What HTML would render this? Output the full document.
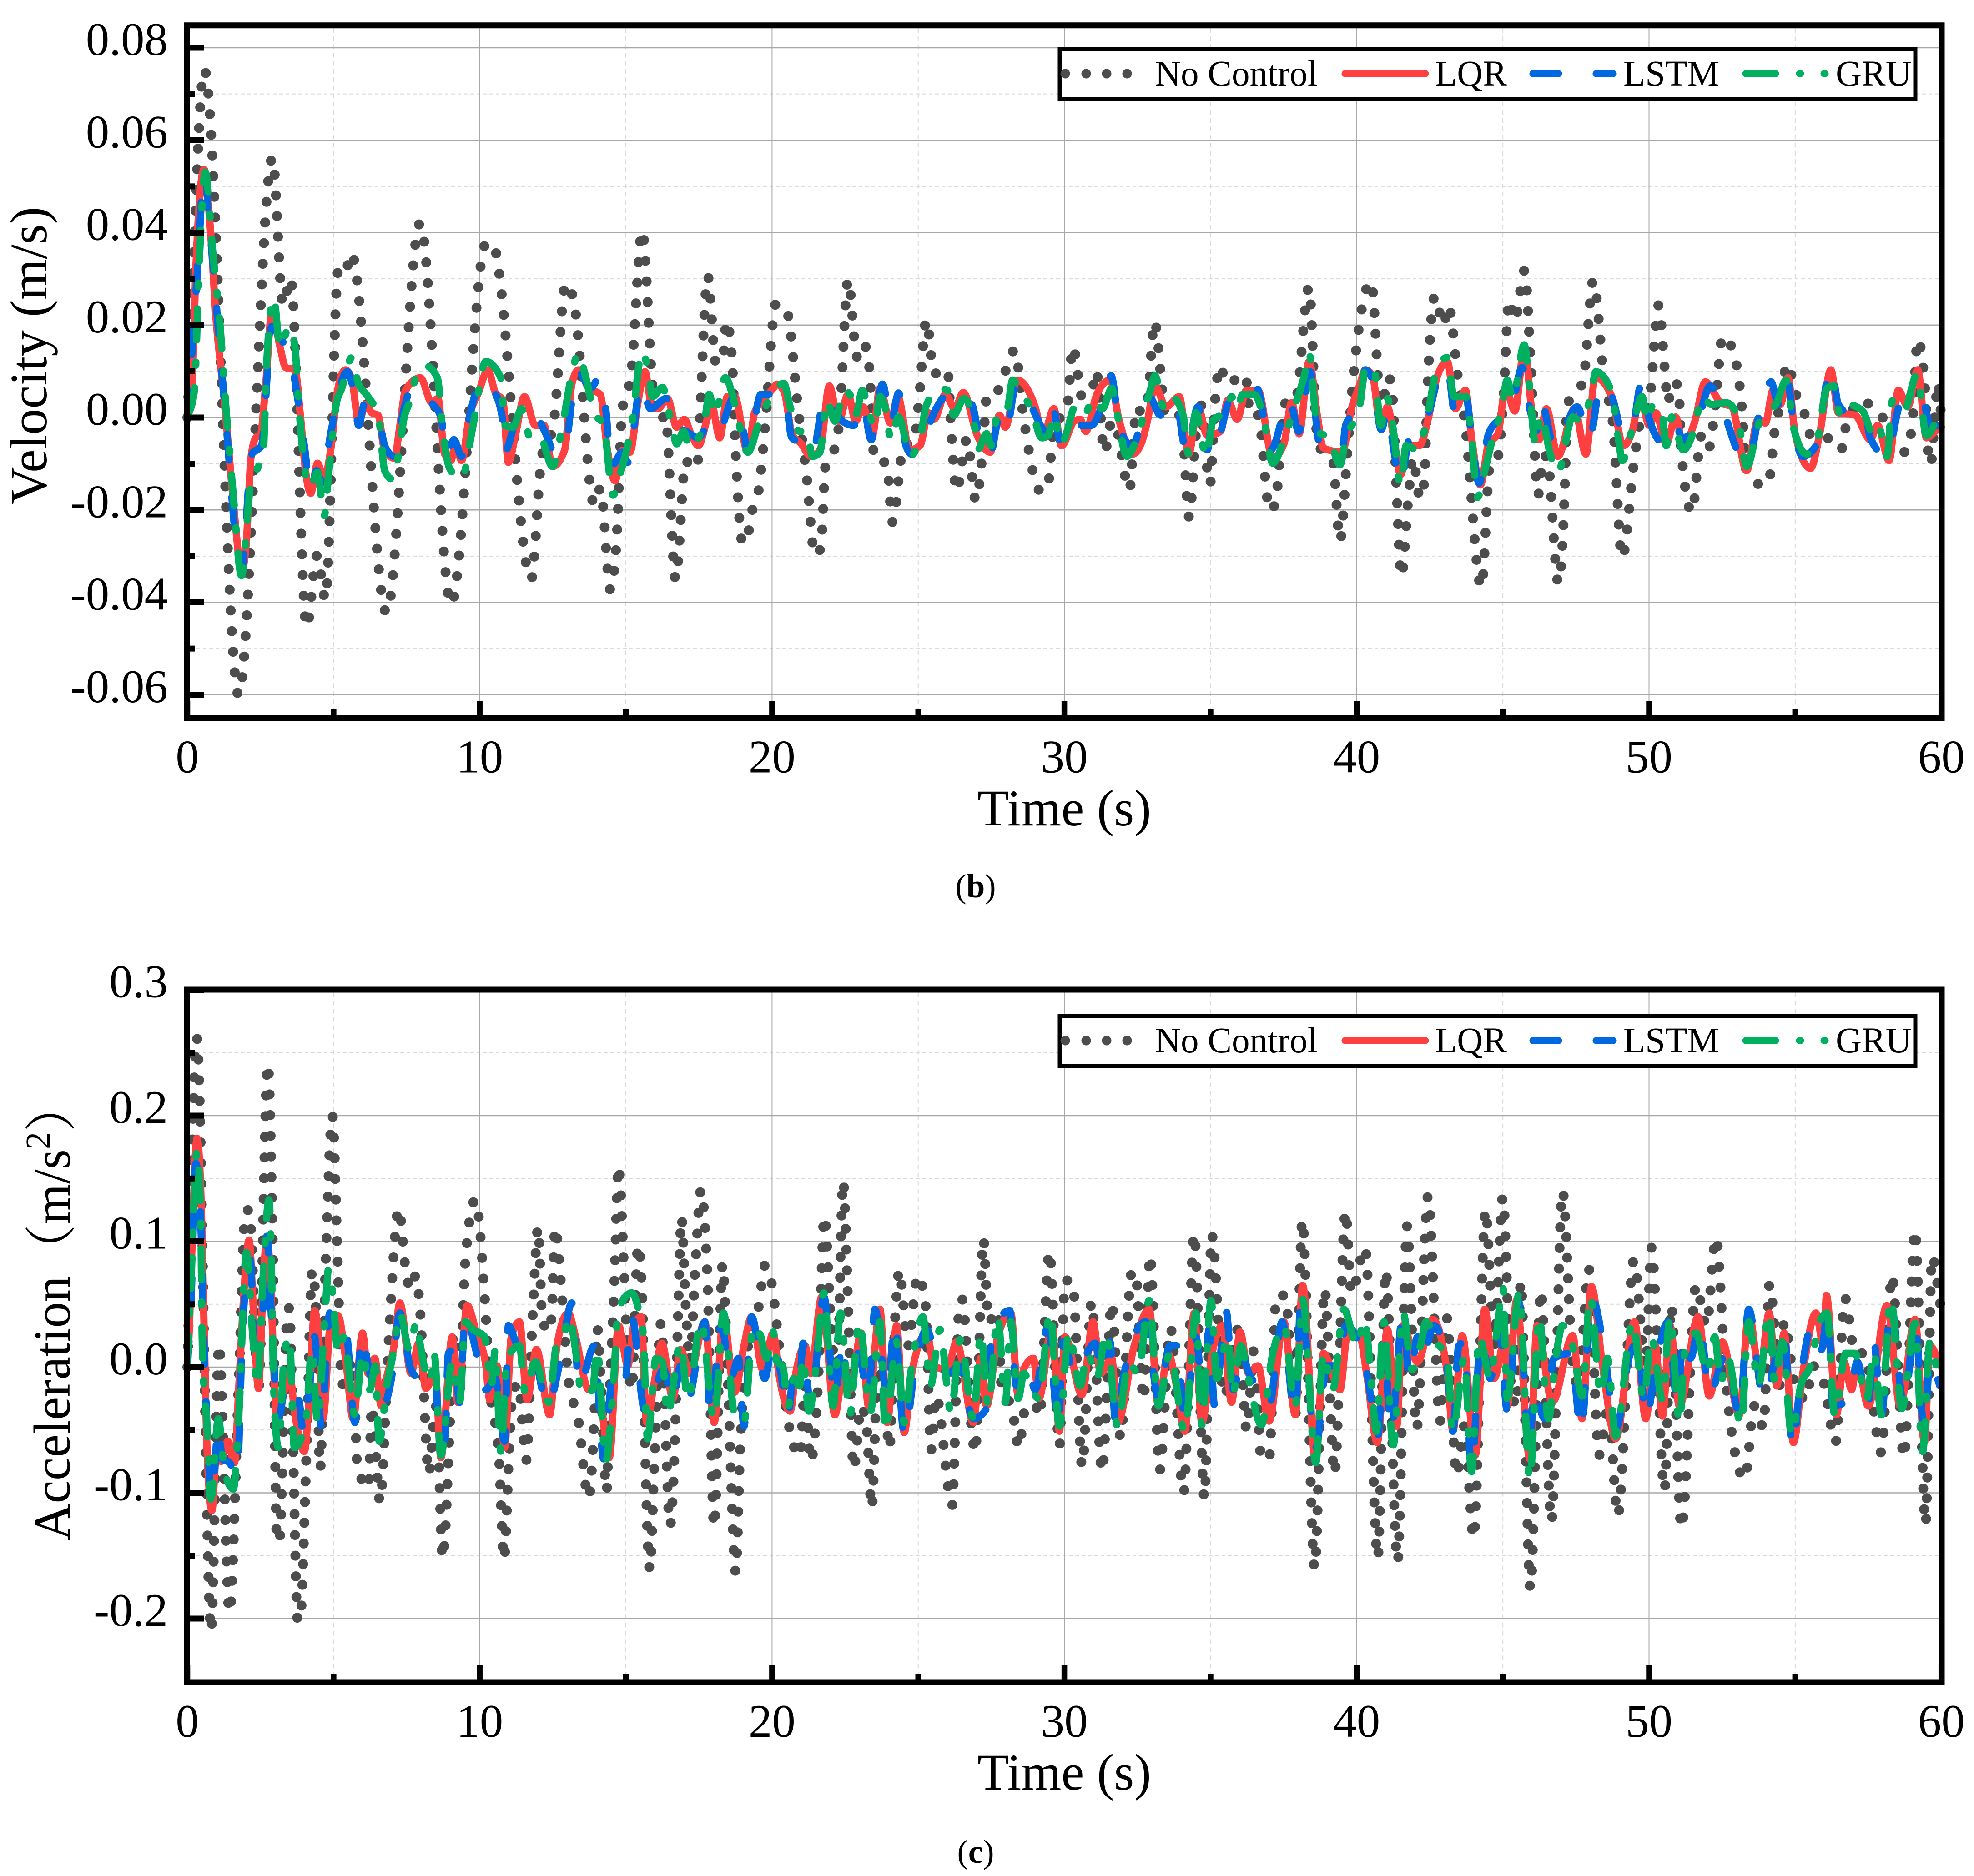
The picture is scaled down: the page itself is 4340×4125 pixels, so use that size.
<!DOCTYPE html>
<html lang="en">
<head>
<meta charset="utf-8">
<title>Velocity and acceleration response</title>
<style>
html,body{margin:0;padding:0;background:#fff;}
svg{display:block;}
text{font-family:"Liberation Serif","Noto Serif CJK SC",serif;fill:#000;}
</style>
</head>
<body>
<svg id="figure" xmlns="http://www.w3.org/2000/svg" width="4340" height="4125" viewBox="0 0 4340 4125">
  <rect x="0" y="0" width="4340" height="4125" fill="#ffffff"/>
  <g id="velocity-chart"></g>
  <g id="acceleration-chart"></g>

  <text transform="translate(102,782) rotate(-90)" text-anchor="middle" font-size="115">Velocity (m/s)</text>
  <text x="2340" y="1815" text-anchor="middle" font-size="113">Time (s)</text>
  <text x="2145" y="1973" text-anchor="middle" font-size="73">(<tspan font-weight="bold">b</tspan>)</text>

  <text transform="translate(153,3388) rotate(-90)" font-size="114">Acceleration（m/s<tspan font-size="76" dy="-44">2</tspan><tspan dy="44">）</tspan></text>
  <text x="2340" y="3935" text-anchor="middle" font-size="113">Time (s)</text>
  <text x="2145" y="4096" text-anchor="middle" font-size="73">(<tspan font-weight="bold">c</tspan>)</text>

  <g>
    <rect x="2330" y="107.5" width="1881" height="110" fill="#fff" stroke="#000" stroke-width="9"/>
    <g>
      <circle cx="2342" cy="162" r="10.5" fill="#4d4d4d"/>
      <circle cx="2388" cy="162" r="10.5" fill="#4d4d4d"/>
      <circle cx="2433" cy="162" r="10.5" fill="#4d4d4d"/>
      <circle cx="2478" cy="162" r="10.5" fill="#4d4d4d"/>
      <text x="2539" y="188" font-size="79">No Control</text>
    </g>
    <g>
      <line x1="2957" y1="162" x2="3134" y2="162" stroke="#ff4040" stroke-width="15" stroke-linecap="round"/>
      <text x="3155" y="188" font-size="79">LQR</text>
    </g>
    <g>
      <line x1="3370" y1="162" x2="3427" y2="162" stroke="#0068e0" stroke-width="15" stroke-linecap="round"/>
      <line x1="3509" y1="162" x2="3547" y2="162" stroke="#0068e0" stroke-width="15" stroke-linecap="round"/>
      <text x="3569" y="188" font-size="79">LSTM</text>
    </g>
    <g>
      <line x1="3838" y1="162" x2="3904" y2="162" stroke="#00b060" stroke-width="15" stroke-linecap="round"/>
      <line x1="3956" y1="162" x2="3959" y2="162" stroke="#00b060" stroke-width="15" stroke-linecap="round"/>
      <line x1="4010" y1="162" x2="4013" y2="162" stroke="#00b060" stroke-width="15" stroke-linecap="round"/>
      <text x="4036" y="188" font-size="79">GRU</text>
    </g>
  </g>

  <g>
    <rect x="2330" y="2233.5" width="1881" height="110" fill="#fff" stroke="#000" stroke-width="9"/>
    <g>
      <circle cx="2342" cy="2288" r="10.5" fill="#4d4d4d"/>
      <circle cx="2388" cy="2288" r="10.5" fill="#4d4d4d"/>
      <circle cx="2433" cy="2288" r="10.5" fill="#4d4d4d"/>
      <circle cx="2478" cy="2288" r="10.5" fill="#4d4d4d"/>
      <text x="2539" y="2314" font-size="79">No Control</text>
    </g>
    <g>
      <line x1="2957" y1="2288" x2="3134" y2="2288" stroke="#ff4040" stroke-width="15" stroke-linecap="round"/>
      <text x="3155" y="2314" font-size="79">LQR</text>
    </g>
    <g>
      <line x1="3370" y1="2288" x2="3427" y2="2288" stroke="#0068e0" stroke-width="15" stroke-linecap="round"/>
      <line x1="3509" y1="2288" x2="3547" y2="2288" stroke="#0068e0" stroke-width="15" stroke-linecap="round"/>
      <text x="3569" y="2314" font-size="79">LSTM</text>
    </g>
    <g>
      <line x1="3838" y1="2288" x2="3904" y2="2288" stroke="#00b060" stroke-width="15" stroke-linecap="round"/>
      <line x1="3956" y1="2288" x2="3959" y2="2288" stroke="#00b060" stroke-width="15" stroke-linecap="round"/>
      <line x1="4010" y1="2288" x2="4013" y2="2288" stroke="#00b060" stroke-width="15" stroke-linecap="round"/>
      <text x="4036" y="2314" font-size="79">GRU</text>
    </g>
  </g>
</svg>

<script>
// ---- axis tick data ----
const timeTicks = [0,10,20,30,40,50,60];
const timeMinorTicks = [5,15,25,35,45,55];
const velocityTicks = [80,60,40,20,0,-20,-40,-60];
const velocityTickLabels = ["0.08","0.06","0.04","0.02","0.00","-0.02","-0.04","-0.06"];
const velocityMinorTicks = [70,50,30,10,-10,-30,-50];
const accelTicks = [300,200,100,0,-100,-200];
const accelTickLabels = ["0.3","0.2","0.1","0.0","-0.1","-0.2"];
const accelMinorTicks = [250,150,50,-50,-150];

// ---- velocity series: time in s, value in 0.001 m/s ----
const velTimeNoControl = [0,.58,1.75,2.91,3.27,3.53,4.08,4.44,4.72,5.17,5.4,5.6,6.81,7.96,9.02,10.2,10.42,11.76,12.12,12.52,12.94,13.21,13.92,14.13,14.47,14.69,14.87,15.18,15.56,15.88,16,16.2,16.35,16.7,17.05,17.25,17.46,17.53,17.8,18.08,18.31,18.44,18.63,18.74,19,19.21,19.33,19.55,19.63,19.76,20.14,
20.5,20.91,21.17,21.47,21.67,21.83,22.22,22.34,22.6,22.91,23.11,23.29,23.39,23.5,23.92,24.12,24.39,24.46,24.84,25.02,25.28,25.54,26,26.13,26.31,26.67,26.97,27.21,27.36,27.68,28.31,28.58,29.2,29.42,29.64,30.09,30.29,30.61,30.95,31.09,31.37,31.62,31.75,32.23,32.39,32.48,32.65,32.84,33.08,33.48,33.99,34.27,34.5,34.63,34.98,35.15,35.32,35.55,36.19,36.36,36.62,37.03,37.22,37.47,37.6,37.9,38.37,38.63,38.86,39.18,39.43,39.66,39.82,
40.5,40.82,40.93,41.08,41.21,41.37,41.53,41.76,41.92,42.17,42.31,42.41,42.67,42.97,43.14,43.46,43.68,44.27,44.56,44.79,45.02,45.21,45.41,45.74,45.97,46.2,46.4,46.53,46.9,47.15,47.17,47.3,47.74,48.09,48.48,48.77,49.08,49.48,49.69,50.01,50.33,50.53,50.65,50.78,51.01,51.1,51.47,51.79,52.02,52.25,52.52,52.86,53.19,53.34,53.85,54.07,54.33,54.49,54.72,55.04,55.33,55.52,55.97,56.41,56.67,56.73,57.34,57.61,57.89,58.34,58.78,59.01,59.19,59.46,59.51,59.63,59.81,59.87,60];
const velValueNoControl = [0,75.2,-60,56.2,24.4,30.1,-45.3,-29.8,-39.3,32.2,31.3,35.6,-42.2,42,-40.4,37.5,37.8,-35,-8.5,-1.7,29,25.4,-18.8,-15.3,-37.3,-25.6,1.2,9.3,40.4,9.3,.3,-.4,.5,-35,-9.3,-11.2,-9.3,-.4,30.6,11.8,12.1,20.9,12.7,-5.3,-27.3,-24.3,-19.9,-15.4,-11,-2,24.7,
23.1,.8,-11.9,-29.8,-28.1,-10.3,-5.3,3.2,29.8,13.1,16.1,13.1,4.2,-9.3,-9.8,-22.6,-9.8,-6,-5.4,3.3,21.1,9.5,10.5,-2.8,-15.9,-4.6,-18,-6.9,5.3,5.6,14.6,1.2,-16,-15.4,-2.1,2,15.3,4.4,5.9,10.1,-7.6,-.8,-1.7,-15.7,-2.2,2.2,1,3.2,20.8,.1,.5,-21.6,-3.5,3.7,-14.5,3.2,11.2,7.3,9.3,.3,.5,-20.2,-18.4,-.6,3.8,3.7,28.2,-3,-7.9,-9.3,-26.7,-9.3,4.1,
29.4,2.8,4.5,8.8,5.7,-16.6,-34.4,-17.9,-8.8,-17.5,-13.9,4.1,26.3,20,24.2,8.8,.1,-36.7,-10,-9.4,4.1,25.4,21,31.8,9.6,-16.8,-8.1,-9.3,-35.8,-9,.1,4.3,7.6,29.6,7.6,-1.7,-30.3,-10,-1,3.5,24.3,11,3.2,7.5,6.9,-7,-20.5,-4,-7,1.4,17.6,14.6,1.2,-12,-14.5,-14.5,-1.4,2.8,11.6,4.8,.6,-3.7,-3.5,-7,-6.3,-1.9,3.8,2.2,1,-4.8,-7.5,-1,16.9,4.5,-4.4,-10.2,3.2,7.5,0];

const velTimeLQR = [0,.16,.29,.57,.76,.99,1.25,1.44,1.63,1.85,2.02,2.17,2.36,2.49,2.68,2.89,3.17,3.36,3.68,3.87,4.04,4.22,4.45,4.68,4.9,5.15,5.41,5.63,5.86,6.09,6.31,6.52,6.75,7.08,7.27,7.46,7.97,8.36,8.57,8.8,9.02,9.16,9.38,9.64,9.96,10.28,10.53,10.79,10.98,11.23,11.53,11.9,12.2,12.49,12.9,13.15,13.38,13.73,14.12,14.37,14.63,14.88,15.14,15.4,15.65,15.91,16.1,16.42,16.74,17,17.25,17.48,17.76,17.93,18.21,18.47,18.72,19.17,19.4,19.75,20.04,
20.17,20.42,20.68,21,21.32,21.64,21.96,22.28,22.6,22.86,23.11,23.43,23.69,24.05,24.3,24.71,25.06,25.35,25.54,25.93,26.25,26.54,27.02,27.46,27.78,27.98,28.39,29,29.28,29.64,29.9,30.34,30.54,30.73,31.11,31.56,31.88,32.33,32.65,32.84,33.1,33.48,33.93,34.25,34.57,34.89,35.34,35.59,35.91,36.23,36.62,37.13,37.51,37.77,38.03,38.37,38.66,38.86,39.5,39.82,40.11,
40.29,40.54,40.82,41.05,41.27,41.5,41.76,42.14,42.46,42.72,43.1,43.38,43.72,43.93,44.23,44.51,44.83,45.09,45.41,45.73,46.05,46.24,46.49,46.88,47.45,47.84,48.16,48.73,49.12,49.44,49.69,50.01,50.23,50.59,50.91,51.17,51.55,51.93,52.45,52.83,53.34,53.73,53.98,54.24,54.49,54.75,55,55.52,55.84,56.22,56.48,57.05,57.57,57.82,58.21,58.53,58.85,59.19,59.49,59.87,60];
const velValueLQR = [0,7.2,32.2,53.7,42.9,20.6,4.5,-8.9,-22.3,-33.3,-26.7,-8.9,-4.2,-3.9,7.2,22.8,15.2,10.8,10.3,.1,-11.5,-16.4,-9.9,-13.3,-7.1,6.3,10.3,8.1,-1.2,2.8,1,.5,-7.1,-8.8,-1.7,5.9,8.6,3.2,4.1,-7.9,-9.3,-5.7,-9.3,.1,5.4,10.3,5.4,3.7,-9.7,-3.5,4.5,-1.7,-1.7,-10.6,-7.1,7.2,10.3,6.3,5,-7.1,-13.7,-7.1,-7.5,2.8,9.9,1.9,1.9,4.1,-2.1,-.4,-3.9,-6.1,-.8,2.8,-4.4,4.5,4.5,-7.5,1,4.1,6.3,
7.2,5.4,-3.5,-5.7,-8.4,-7,6.8,-.8,5,-.8,2.3,-3.9,6.3,-1.2,4.5,-7,-6.1,1,-.4,5,1.9,5.4,-3.9,-7.5,.5,-2.1,8.1,2.3,-3.9,1.9,-6.1,-.8,-.4,-3,5,8.1,-.8,-7.9,-5.3,-.8,6.8,2.3,4.5,-7.9,2.3,-3.9,-3,3.7,-.4,5.9,5.9,-8.8,-5.7,3.2,-3.5,12.1,.1,-6.6,-7.5,1.9,7.2,
10.3,9,-2.1,2.3,-4.4,-12.4,-6.1,-6.1,.1,8.1,12.1,1.9,5.9,-4.4,-14.6,-5.7,-3.5,6.3,1.4,14.8,-1.7,-4.8,1.9,-8.4,1.9,-7.9,8.6,4.5,-6.1,-2.6,4.5,-1.7,1,-5.7,.1,-6.1,-1.2,7.7,3.2,2.3,-11.5,-.4,-1.2,5.9,2.8,8.6,-3.5,-11,-3.5,10.3,1,.5,-4.8,-1.7,-9.3,5.9,2.3,10.3,-4.4,-2.6,-2.1];

const velTimeLSTM = [0,.35,.57,.8,1.25,1.85,2.21,2.53,2.89,3.11,3.62,4,4.22,4.42,4.6,4.9,5.47,5.67,5.86,6.05,6.56,6.75,7.07,7.27,7.65,8.03,8.35,8.67,8.87,9.12,9.38,9.63,10.08,10.47,10.79,10.85,11.3,11.81,12.26,12.58,12.96,13.15,13.38,13.79,14.09,14.31,14.5,14.88,15.07,15.52,15.84,16.38,16.74,17.06,17.48,17.74,18.21,18.4,18.72,19.04,19.17,19.62,20.04,
20.42,20.68,21.06,21.38,21.81,22.15,22.41,22.79,23.11,23.39,23.78,24.07,24.33,24.58,24.78,25.22,25.61,25.93,26.25,26.82,27.08,27.46,27.78,28,28.36,28.87,29.38,29.58,29.9,30.47,30.92,31.3,31.6,31.88,32.33,32.9,33.29,33.8,34.18,34.57,34.89,35.08,35.27,35.66,36.04,36.58,37.06,37.7,38.02,38.41,38.73,39.3,39.5,39.62,40.11,
40.29,40.54,40.84,41.05,41.27,41.5,41.76,42.21,42.46,42.72,43.1,43.38,43.74,43.93,44.19,44.51,44.89,45.25,45.66,45.92,46.21,46.33,46.75,47,47.54,47.97,48.35,48.73,49.12,49.44,49.73,50.01,50.53,50.91,51.23,51.42,51.61,52.09,52.51,53.09,53.41,53.73,54.17,54.43,54.71,55,55.26,55.71,56.22,56.48,57.05,57.37,57.57,58.14,58.59,59.1,59.42,59.61,60];
const velValueLSTM = [0,32.2,52.7,38.4,4.5,-32.9,-7.9,-6.1,19.7,17.9,9.9,-6.1,-15.9,-11.5,-14.2,-3.5,9.9,6.3,-1.7,2.8,-.8,-6.1,-8.4,-2.1,5.9,6.3,3.2,.1,-7.9,-4.8,-8.4,-.4,8.1,5.9,-.8,-7.5,.1,1,-3.5,-7.9,-5.3,3.7,9.9,6.3,8.6,1.9,-10.6,-7.5,-9.7,7.2,1.9,4.1,-2.1,-3,-4.4,-2.6,-4.4,.1,4.5,-3.5,-7.5,5,5,
5,-4.4,-5.7,-7.9,4.5,1.4,-.8,-1.7,2.8,-4.8,7.2,-1.2,5.3,-6.1,-7.9,-3.9,1.9,4.5,1.4,2.8,-3.9,-7.9,.1,-2.8,7.2,2.3,-3,2.8,-6.1,-1.7,-1.7,2.8,9,-2.1,-6.1,4.5,.5,3.7,-7.5,2.3,-7,.1,-3.9,3.7,3.7,6.3,-7,3.7,-3,9.9,-5.7,-7,-7.5,-1.7,2.8,
10.3,8.1,-2.6,1.4,-7,-14.2,-5.3,-.4,1,7.2,10.8,.1,4.5,-4.4,-14.2,-3.5,-.4,1,10.8,1.9,-3,2.8,-6.1,-3.9,2.3,-4.4,7.2,4.5,-3.5,-2.1,7.2,-.4,-5.7,-1.7,-6.1,-.8,-.8,6.8,1.9,-7.9,-9.3,-.4,7.7,2.8,8.6,-3.9,-8.4,-6.1,10.8,2.8,.1,1,-4.4,-8.4,2.8,4.5,2.8,-1.7,-1.7];

const velTimeGRU = [0,.23,.42,.61,.87,1.12,1.31,1.57,1.85,2.17,2.4,2.59,2.72,2.95,3.17,3.49,3.68,3.81,4.07,4.19,4.45,4.68,4.83,5.09,5.28,5.63,5.83,6.18,6.54,6.75,7.01,7.27,7.39,7.59,7.88,8.14,8.55,8.74,8.97,9.38,9.76,10.21,10.72,10.85,11.14,11.43,11.75,12.07,12.49,12.83,13.18,13.37,13.6,13.92,14.24,14.56,14.82,15.2,15.56,15.78,15.91,16.25,16.55,16.74,16.97,17.19,17.7,17.85,18.04,18.4,18.66,18.85,19.17,19.55,20.04,
20.4,20.62,20.94,21.19,21.38,21.64,21.87,22.15,22.47,22.66,22.86,23.09,23.3,23.52,23.69,23.88,24.07,24.33,24.52,24.71,25.1,25.26,25.74,25.99,26.21,26.57,26.95,27.04,27.34,27.49,27.76,28.04,28.23,28.51,28.87,29.23,29.45,29.64,29.9,30.09,30.34,30.66,30.98,31.3,31.62,31.79,32.14,32.48,32.94,33.1,33.42,33.67,34.06,34.25,34.5,34.85,35.08,35.53,35.72,35.91,36.1,36.49,36.81,37.13,37.51,37.9,38.22,38.37,38.57,38.66,39.05,39.43,39.62,40.11,
40.31,40.61,40.82,41.05,41.25,41.5,41.69,42.08,42.4,42.72,43.1,43.33,43.74,43.93,44.13,44.38,44.64,44.96,45.15,45.34,45.73,45.92,46.11,46.3,46.62,46.88,47.39,47.67,48.03,48.18,48.73,48.93,49.09,49.44,49.76,49.95,50.14,50.44,50.59,50.78,51.17,51.58,51.81,52.13,52.64,53.02,53.34,53.79,54.08,54.37,54.69,54.94,55.39,55.71,56.09,56.31,56.54,56.8,57.31,57.63,57.82,58.14,58.33,58.72,59.17,59.49,59.87,60];
const velValueGRU = [0,5.4,35.7,53.1,35.7,19.7,2.8,-16.8,-34.2,-14.2,-11,-7.9,12.6,25.9,15.2,19.7,15.2,2.8,-13.3,-15.1,-11.9,-21.3,-12.4,2.8,6.3,13,7.7,4.5,.1,-11.5,-13.3,-6.1,-.8,3.2,9.9,11.2,8.6,-3,-11,-13.3,-2.1,12.1,8.6,-1.7,-2.1,1.9,-4.8,-4.4,-10.6,-1.7,10.3,13.9,9.4,1,-1.7,-16.8,-11.9,-1.7,14.3,9.4,4.5,6.5,-1.2,-5.7,-3,-6.6,-.4,5,.5,8.6,4.5,-.8,-7.5,-1.2,5.4,
7.4,2.3,-3,-3,-8.4,-7.5,3.7,-.8,5.9,5,.5,5.9,1.4,-2.1,4.5,1.9,-4.8,.1,-3.5,-8.4,-3.5,2.3,6.3,5.9,.5,4.1,-2.6,-6.9,-3.5,-6.1,1.9,1.9,8.1,5.4,1.9,-4.4,-3.9,.5,-5.7,-3,2,.1,4.1,1.9,6.3,1.4,-8.4,-4.4,5.9,9,1.9,4.5,.5,-7.9,1,-8.4,-.8,1.4,4.5,1.9,5,5,.1,-9.9,-4.8,2.8,9.4,13.9,1.9,-3,-4.4,-10.2,-4.8,2.8,
11.2,9.9,-1.7,4.1,-2.6,-14.6,-6.1,-7,-.4,9.9,13,4.5,4.5,-4.4,-17.3,-11.5,-4.8,1.9,8.1,4.1,15.7,5.9,-5.7,.5,-7.9,-11.9,.1,-.8,5.4,9.9,5.4,-3.5,-9.3,-2.1,4.5,-.8,2.8,1,-6.1,.1,-7,-1.7,4.5,2.8,3.2,.5,-10.6,-.8,1,3.2,8.1,-2.1,-7.9,-6.1,6.3,6.8,.5,2.8,1.4,-3,-1.2,-8.4,3.7,1.4,9.4,-3.9,-.4,.5];

// ---- acceleration series: time in s, value in 0.001 m/s^2 ----
const accTimeNoControl = [0,.32,.81,1.08,1.44,1.76,1.99,2.11,2.43,2.75,2.91,3.06,3.14,3.43,3.49,3.62,3.77,3.85,4.07,4.27,4.39,4.54,4.73,4.96,5.14,5.28,5.67,5.81,6.19,6.31,6.59,6.88,7.23,7.46,7.62,7.82,7.96,8.26,8.42,8.52,8.73,8.99,9.1,9.29,9.51,9.85,10.17,10.34,10.66,10.83,11,11.12,11.32,11.59,11.81,12,12.13,12.32,12.45,12.58,12.81,13.03,13.38,13.72,13.92,14.02,14.15,14.34,14.43,14.6,14.75,14.92,15.01,15.2,15.42,15.56,15.65,15.82,15.97,16.2,16.51,16.65,16.8,16.9,17.06,17.19,17.38,17.57,17.79,18.02,18.31,18.47,18.76,18.91,19.23,19.55,19.76,20.04,
20.14,20.55,20.95,21.13,21.32,21.58,21.79,22.02,22.22,22.43,22.6,22.79,23.05,23.24,23.41,23.62,23.88,24.01,24.24,24.35,24.65,24.98,25.25,25.44,25.61,26.16,26.38,26.5,26.82,26.95,27.23,27.4,27.72,27.85,28.23,28.44,28.68,29,29.15,29.49,29.83,30.02,30.28,30.61,30.93,31.29,31.62,31.92,32.3,32.43,32.71,32.93,33.26,33.63,34.08,34.44,34.79,35.04,35.46,35.98,36.23,36.49,36.74,37,37.26,37.55,37.9,38.14,38.56,38.9,39.24,39.62,39.82,
40.29,40.72,40.99,41.4,41.72,42.05,42.44,42.85,43.08,43.42,43.68,44,44.41,44.7,45,45.28,45.47,45.61,45.94,46.3,46.66,47.04,47.39,47.58,47.94,48.29,48.61,48.93,49.48,49.89,50.08,50.53,50.76,51.11,51.61,51.96,52.29,52.64,53.28,53.6,53.92,54.12,54.49,54.62,55,55.39,55.58,55.97,56.38,56.7,57.05,57.37,57.95,58.31,58.72,59.1,59.46,59.68,59.97];
const accValueNoControl = [0,262,-210,18,-195,-9,124,125,-18,241,111,-137,-139,45,47,-69,-201,-202,-71,77,51,-81,82,200,85,-14,5,-78,-96,-31,-107,19,126,79,62,73,45,-85,-44,-31,-152,-38,27,-25,85,133,56,-14,-72,-153,-71,-22,-13,-74,41,111,43,28,38,111,57,-9,-43,-104,-39,31,-15,-99,-31,62,160,87,33,-18,97,57,-57,-161,-79,35,-126,-77,54,119,43,4,82,141,70,-127,82,1,-163,-64,25,49,81,59,
38,-43,-71,-15,-75,-10,120,33,-15,148,51,-81,-31,-49,-112,1,-31,-65,51,77,17,73,49,-66,-23,-110,40,54,-47,-68,102,36,45,-15,-35,-64,-31,-30,-39,92,-63,69,68,-79,52,-83,51,-56,75,76,-26,89,-82,31,-100,106,-104,105,-23,32,-50,14,-73,-73,57,57,-38,117,-160,62,-85,124,59,
95,-152,77,-155,112,-49,136,-43,39,-86,-47,-136,125,17,135,-15,-31,68,-176,61,-123,140,1,-15,78,-70,-31,-118,85,1,95,-98,49,-128,65,33,103,-15,-89,-31,-48,66,-15,36,-15,-26,1,-12,-60,55,11,11,-68,73,-72,109,-125,88,49];

const accTimeLQR = [0,.07,.16,.33,.48,.57,.67,.84,.99,1.15,1.38,1.61,1.76,1.95,2.11,2.25,2.43,2.59,2.72,2.88,2.98,3.08,3.32,3.49,3.68,4,4.19,4.35,4.51,4.64,4.9,5.15,5.41,5.67,5.99,6.18,6.41,6.63,6.75,7.07,7.27,7.65,7.91,8.16,8.48,8.67,9.06,9.25,9.57,9.89,10.21,10.34,10.59,10.85,11.08,11.36,11.62,11.94,12.39,12.64,13.03,13.28,13.73,14.05,14.43,14.75,15.07,15.27,15.52,15.71,15.97,16.23,16.61,16.87,17.19,17.7,18.02,18.34,18.72,19.04,19.3,19.68,20.04,
20.23,20.62,20.81,21.13,21.32,21.7,22.15,22.47,22.66,23.05,23.3,23.69,23.94,24.26,24.52,24.78,25.29,25.54,25.99,26.31,26.89,27.14,27.34,27.72,28.17,28.42,28.62,28.94,29.13,29.58,29.83,30.02,30.6,30.98,31.24,31.62,31.82,32.39,32.9,33.22,33.54,33.86,34.12,34.44,34.7,35.08,35.4,35.72,36.01,36.3,36.62,37,37.51,37.9,38.15,38.6,38.86,39.43,39.69,40.11,
40.35,40.7,41.05,41.37,41.57,42.08,42.59,43.1,43.29,43.61,44.06,44.38,44.7,45.09,45.15,45.47,45.92,46.17,46.69,47.39,47.71,48.03,48.41,48.86,49.5,49.89,50.21,50.46,50.72,51.04,51.68,52.06,52.51,53.09,53.41,53.79,54.11,54.37,54.62,54.94,55.26,55.71,55.97,56.07,56.41,56.67,56.93,57.12,57.5,58.14,58.59,59.1,59.42,59.61,59.97];
const accValueLQR = [0,33,98,182,124,33,-64,-114,-70,-75,-59,-76,-15,65,101,49,-17,65,104,49,-15,-44,-18,-5,-38,-67,-15,45,17,-41,36,41,7,-41,27,-5,7,-31,-15,17,51,-5,19,-17,-5,-72,24,-28,49,27,1,-26,1,-64,24,36,-26,14,-38,17,43,24,-18,-18,-72,33,1,33,40,-44,-12,19,-25,14,-5,36,-44,40,-20,17,40,-2,27,
-5,-35,-5,17,-5,56,-38,1,-18,27,-31,46,-44,33,-52,-5,27,1,-2,20,-44,7,-31,24,43,-23,-1,7,-25,33,-51,24,-22,36,-5,7,-44,17,46,-31,11,-18,-51,43,-44,14,33,-28,28,-5,1,-43,36,-38,65,-76,11,-18,27,24,
-7,-60,30,-47,33,4,38,-5,-51,25,-70,46,-9,24,-31,53,-73,33,-28,25,-41,64,1,-57,36,-41,17,-39,33,-31,40,-23,20,-38,43,-5,43,-15,27,-60,-5,43,17,57,-38,4,-18,4,-31,49,-31,38,-60,17,1];

const accTimeLSTM = [0,.12,.29,.46,.55,.67,.84,1.06,1.19,1.44,1.7,1.89,2.15,2.3,2.53,2.72,2.89,3.11,3.32,3.49,3.81,3.96,4.19,4.35,4.58,4.87,5.03,5.41,5.73,5.96,6.24,6.43,6.69,6.98,7.27,7.65,8.1,8.48,8.57,8.8,8.93,9.12,9.31,9.51,9.83,10.21,10.53,10.85,10.98,11.23,11.49,11.81,12.32,12.77,13.15,13.41,13.92,14.24,14.56,14.95,15.2,15.65,15.84,16.29,16.61,16.87,17.12,17.7,17.89,18.27,18.59,18.85,19.04,19.3,19.75,20.04,
20.3,20.55,20.74,20.94,21.06,21.32,21.77,22.15,22.41,22.6,22.96,23.3,23.52,23.94,24.2,24.52,24.9,25.29,25.61,26.06,26.38,26.89,27.34,27.53,28.13,28.36,28.74,29,29.45,29.79,29.96,30.34,31.05,31.3,31.56,31.75,32.01,32.78,33.22,33.61,33.86,34.12,34.5,34.76,34.95,35.14,35.53,35.78,36.1,36.23,36.68,37,37.45,37.9,38.09,38.6,38.98,39.37,39.62,40.11,
40.35,40.73,40.93,41.18,41.57,41.82,42.08,42.21,42.65,43.1,43.29,43.49,43.68,43.93,44.25,44.57,44.89,45.15,45.53,45.92,46.05,46.43,46.75,47.33,47.68,48.03,48.54,48.86,49.31,49.63,49.89,50.27,50.65,50.97,51.17,51.42,51.74,52.06,52.64,53.09,53.41,53.92,54.62,54.9,55.2,55.58,55.9,56.13,56.29,56.86,57.12,57.5,57.69,57.95,58.27,58.72,59.1,59.42,59.61,59.95];
const accValueLSTM = [0,49,162,114,33,-47,-105,-47,-73,-76,-86,33,85,17,27,104,33,-41,-18,-12,-25,-51,-12,24,-47,43,24,30,-44,25,-5,-18,-31,-9,43,-2,-12,-5,-38,-60,11,14,-28,43,17,-18,-9,-59,33,20,7,11,-31,7,51,-15,17,-73,-5,-14,40,-35,-28,-2,-28,1,-26,36,-38,33,-9,7,-47,40,-9,20,
-5,-38,-4,-12,19,-31,56,-25,20,-18,11,-25,46,-22,36,-54,1,30,7,-5,1,-41,-33,27,45,-15,1,-18,33,-47,20,-5,19,-5,20,-44,-9,36,-25,17,17,-44,24,-28,30,-31,45,-18,14,1,-18,-31,36,-39,54,-64,1,1,33,17,
-5,-54,17,-51,40,-9,24,4,33,-2,-51,17,20,-83,24,-9,30,-35,53,-70,-18,-41,7,11,-51,56,1,-51,7,20,-41,7,36,-28,24,7,36,-22,11,-38,46,-25,28,-64,-7,33,14,48,-31,-25,4,-31,20,-38,51,-31,33,-51,7,-15];

const accTimeGRU = [0,.12,.33,.46,.51,.67,.8,1.06,1.25,1.57,1.76,2.02,2.21,2.4,2.59,2.79,2.89,2.95,3.11,3.32,3.49,3.66,4.04,4.26,4.45,4.71,4.83,4.99,5.15,5.35,5.73,5.99,6.24,6.43,6.56,6.84,7.01,7.27,7.59,7.84,7.97,8.29,8.44,8.67,9.06,9.31,9.51,9.76,10.17,10.4,10.53,10.72,10.94,11.36,11.55,11.9,12.36,12.64,12.9,13.03,13.35,13.47,13.86,14.02,14.31,14.56,14.75,15.2,15.46,15.59,15.74,16.03,16.25,16.42,16.87,17.12,17.57,18.02,18.34,18.72,19.04,19.36,19.62,19.81,20.04,
20.17,20.36,20.55,20.74,20.94,21.06,21.26,21.51,21.77,22.09,22.34,22.66,22.98,23.37,23.69,23.88,24.26,24.52,24.78,25.16,25.42,25.74,26.12,26.44,26.89,27.14,27.4,27.72,27.98,28.17,28.42,28.62,28.87,29.13,29.51,29.83,30.15,30.54,30.79,31.11,31.43,31.82,32.2,32.52,32.9,33.22,33.61,34.12,34.5,34.7,35.02,35.21,35.59,35.76,36.04,36.3,36.74,37.13,37.51,37.9,38.15,38.6,38.86,39.18,39.56,40.01,
40.26,40.48,40.67,40.93,41.25,41.59,41.89,42.21,42.37,42.72,43.1,43.29,43.68,43.93,44.19,44.57,44.77,45,45.15,45.56,45.92,46.24,46.56,46.81,47.04,47.39,47.71,47.99,48.35,48.58,48.86,49.44,49.82,50.08,50.46,50.72,51.04,51.23,51.61,52,52.25,52.45,52.7,53.15,53.41,53.75,54.11,54.3,54.56,54.88,55.2,55.52,55.84,56.09,56.35,56.73,57.05,57.44,57.69,57.95,58.27,58.65,59.1,59.36,59.61,59.87];
const accValueGRU = [0,65,172,111,17,-47,-105,-41,-80,-97,-38,91,33,-15,72,133,65,-15,-64,11,24,-64,-44,14,-44,43,78,54,11,24,-38,11,-18,1,-59,-12,7,43,14,36,17,-12,11,-70,4,-28,36,30,24,-15,14,-67,7,17,-20,4,-28,20,27,40,1,-22,-18,14,-75,-18,46,59,43,27,-57,7,4,-38,19,-26,36,-41,43,-38,-44,33,24,7,28,
4,1,-31,-9,-15,7,-35,1,59,-31,43,-38,36,-35,36,-51,20,-44,1,40,-15,30,-36,22,-41,27,-31,40,-28,36,-25,-5,-18,-25,43,-47,27,-15,11,-9,27,-47,4,-5,53,-31,11,-51,43,-46,53,-9,24,-22,17,-9,-46,11,33,-31,54,-76,11,-18,46,17,
38,-5,-51,36,-62,43,-2,20,36,20,7,-51,7,-83,24,-9,24,64,-25,59,-89,40,-41,7,33,17,-23,56,-22,7,-55,36,-25,24,-26,40,-44,14,27,-5,24,-12,7,-46,36,-14,43,-12,20,-54,-14,1,36,43,-38,11,11,-26,12,-38,54,-33,35,-67,20,-4];

// ---- axis functions ----
const SVG_NS = 'http://www.w3.org/2000/svg';
function xScale(t) { return 412 + t * 64.27; }
function yVelocity(v) { return 918 - v * 10.1625; }
function yAccel(a) { return 3006 - a * 2.765; }

function monotonePath(xs, ys) {
  const n = Math.min(xs.length, ys.length);
  const m = new Array(n).fill(0);
  const s = new Array(n).fill(0);
  for (let i = 0; i < n - 1; i++) {
    const h = Math.max(xs[i + 1] - xs[i], 1e-6);
    s[i] = (ys[i + 1] - ys[i]) / h;
  }
  m[0] = s[0];
  m[n - 1] = s[n - 2];
  for (let i = 1; i < n - 1; i++) {
    if (s[i - 1] * s[i] <= 0) {
      m[i] = 0;
    } else {
      const h0 = xs[i] - xs[i - 1];
      const h1 = xs[i + 1] - xs[i];
      const p = (s[i - 1] * h1 + s[i] * h0) / (h0 + h1);
      m[i] = (Math.sign(s[i - 1]) + Math.sign(s[i])) * Math.min(Math.abs(s[i - 1]), Math.abs(s[i]), 0.5 * Math.abs(p));
    }
  }
  let d = 'M' + xs[0].toFixed(1) + ' ' + ys[0].toFixed(1);
  for (let i = 0; i < n - 1; i++) {
    const h = (xs[i + 1] - xs[i]) / 3;
    d += 'C' + (xs[i] + h).toFixed(1) + ' ' + (ys[i] + m[i] * h).toFixed(1) + ' ' +
         (xs[i + 1] - h).toFixed(1) + ' ' + (ys[i + 1] - m[i + 1] * h).toFixed(1) + ' ' +
         xs[i + 1].toFixed(1) + ' ' + ys[i + 1].toFixed(1);
  }
  return d;
}

function drawLine(parent, x1, y1, x2, y2, stroke, width, dash) {
  const el = document.createElementNS(SVG_NS, 'line');
  el.setAttribute('x1', x1);
  el.setAttribute('y1', y1);
  el.setAttribute('x2', x2);
  el.setAttribute('y2', y2);
  el.setAttribute('stroke', stroke);
  el.setAttribute('stroke-width', width);
  if (dash) el.setAttribute('stroke-dasharray', dash);
  parent.appendChild(el);
  return el;
}

function drawChart(cfg) {
  const root = document.getElementById(cfg.id);
  const left = 411.5, right = 4269;
  const top = cfg.top, bottom = cfg.bottom;
  const innerTop = top + 6.5, innerBottom = bottom - 6.5;

  cfg.minor.forEach(function (v) {
    const el = drawLine(root, 418, cfg.y(v), 4263, cfg.y(v), '#d8d8d8', 2, '8 6');
    
    
  });
  timeMinorTicks.forEach(function (t) {
    const el = drawLine(root, xScale(t), innerTop, xScale(t), innerBottom, '#d8d8d8', 2, '10 8');
    
    
  });
  cfg.major.forEach(function (v) {
    const el = drawLine(root, 418, cfg.y(v), 4263, cfg.y(v), '#a8a8a8', 2.5);
    
    
  });
  timeTicks.forEach(function (t) {
    const el = drawLine(root, xScale(t), innerTop, xScale(t), innerBottom, '#a8a8a8', 2);
    
    
  });

  cfg.series.forEach(function (s) {
    const xs = s.times.map(xScale);
    const ys = s.values.map(cfg.y);
    const path = document.createElementNS(SVG_NS, 'path');
    
    
    path.setAttribute('d', monotonePath(xs, ys));
    path.setAttribute('fill', 'none');
    path.setAttribute('stroke', s.color);
    path.setAttribute('stroke-width', s.width);
    path.setAttribute('stroke-linecap', 'round');
    path.setAttribute('stroke-linejoin', 'round');
    if (s.dash) path.setAttribute('stroke-dasharray', s.dash);
    root.appendChild(path);
  });

  const frame = document.createElementNS(SVG_NS, 'rect');
  
  
  frame.setAttribute('x', left);
  frame.setAttribute('y', top);
  frame.setAttribute('width', right - left);
  frame.setAttribute('height', bottom - top);
  frame.setAttribute('fill', 'none');
  frame.setAttribute('stroke', '#000');
  frame.setAttribute('stroke-width', 13);
  root.appendChild(frame);

  cfg.major.forEach(function (v, i) {
    const tick = drawLine(root, 418, cfg.y(v), 448, cfg.y(v), '#000', 13);
    
    
    const label = document.createElementNS(SVG_NS, 'text');
    
    
    label.setAttribute('x', 369);
    label.setAttribute('y', cfg.y(v) + 16);
    label.setAttribute('text-anchor', 'end');
    label.setAttribute('font-size', 103);
    label.textContent = cfg.labels[i];
    root.appendChild(label);
  });
  cfg.minor.forEach(function (v) {
    const tick = drawLine(root, 418, cfg.y(v), 429, cfg.y(v), '#000', 13);
    
    
  });
  timeTicks.forEach(function (t) {
    const tick = drawLine(root, xScale(t), innerBottom - 31, xScale(t), innerBottom, '#000', 12.5);
    
    
    const label = document.createElementNS(SVG_NS, 'text');
    
    
    label.setAttribute('x', xScale(t));
    label.setAttribute('y', bottom + 120);
    label.setAttribute('text-anchor', 'middle');
    label.setAttribute('font-size', 103);
    label.textContent = String(t);
    root.appendChild(label);
  });
  timeMinorTicks.forEach(function (t) {
    const tick = drawLine(root, xScale(t), innerBottom - 12, xScale(t), innerBottom, '#000', 12.5);
    
    
  });
}

const noControlStyle = { name: 'no-control', color: '#4d4d4d', width: 22, dash: '0 45.5' };
const lqrStyle = { name: 'lqr', color: '#ff4040', width: 16, dash: '' };
const lstmStyle = { name: 'lstm', color: '#0068e0', width: 16, dash: '57 82' };
const gruStyle = { name: 'gru', color: '#00b060', width: 16, dash: '68 49 7 49' };

drawChart({
  id: 'velocity-chart', top: 55.75, bottom: 1578.5, y: yVelocity,
  major: velocityTicks, minor: velocityMinorTicks, labels: velocityTickLabels,
  series: [
    Object.assign({ times: velTimeNoControl, values: velValueNoControl }, noControlStyle),
    Object.assign({ times: velTimeLQR, values: velValueLQR }, lqrStyle),
    Object.assign({ times: velTimeLSTM, values: velValueLSTM }, lstmStyle),
    Object.assign({ times: velTimeGRU, values: velValueGRU }, gruStyle)
  ]
});
drawChart({
  id: 'acceleration-chart', top: 2176, bottom: 3699, y: yAccel,
  major: accelTicks, minor: accelMinorTicks, labels: accelTickLabels,
  series: [
    Object.assign({ times: accTimeNoControl, values: accValueNoControl }, noControlStyle),
    Object.assign({ times: accTimeLQR, values: accValueLQR }, lqrStyle),
    Object.assign({ times: accTimeLSTM, values: accValueLSTM }, lstmStyle),
    Object.assign({ times: accTimeGRU, values: accValueGRU }, gruStyle)
  ]
});
</script>
</body>
</html>
